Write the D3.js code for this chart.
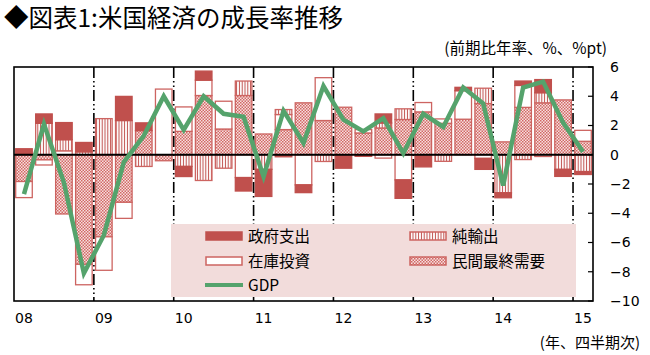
<!DOCTYPE html>
<html><head><meta charset="utf-8">
<script src="https://cdn.jsdelivr.net/npm/d3@7"></script>
<style>body{margin:0;background:#fff;} svg{display:block;}</style>
</head><body>
<svg id="c" width="650" height="355"></svg>
<script>
// ---- data (2008Q1 .. 2015Q1) ----
const quarters = ["08Q1","08Q2","08Q3","08Q4","09Q1","09Q2","09Q3","09Q4",
  "10Q1","10Q2","10Q3","10Q4","11Q1","11Q2","11Q3","11Q4",
  "12Q1","12Q2","12Q3","12Q4","13Q1","13Q2","13Q3","13Q4",
  "14Q1","14Q2","14Q3","14Q4","15Q1"];
const gov =           [0.41, 0.64, 1.17, 0.64, 0.00, 1.65, 0.53, 0.00,
  -0.69, 0.62, 0.00, -0.92, -1.85, -0.14, -0.53, 0.00,
  -0.92, -0.11, 0.62, -1.26, -0.83, 0.00, 0.23, -0.75,
  -0.34, 0.30, 0.90, -0.48, -0.20];
const netExports =    [0.00, 2.15, 0.76, 0.20, 2.47, 2.34, -0.80, 0.00,
  -0.80, -1.76, -0.92, 0.99, -1.00, 0.34, 0.00, -0.46,
  0.00, 0.00, 0.34, 0.73, 0.00, -0.45, 0.00, 1.05,
  -2.60, -0.33, 0.69, -1.00, -1.15];
const inventory =     [-1.10, -0.35, 0.27, -1.40, -2.29, -1.10, 0.00, 4.49,
  1.67, 1.05, 1.90, -1.56, 0.00, 1.03, -2.06, 2.93,
  0.00, 0.23, -0.23, -1.72, 0.64, 0.30, 1.95, -0.25,
  0.00, 1.50, -0.12, 0.00, 0.75];
const privateDemand = [-1.83, -0.35, -4.05, -7.49, -5.61, -3.25, 1.65, -0.41,
  1.60, 4.05, 1.76, 4.05, 1.42, 1.72, 3.55, 2.34,
  3.25, 1.49, 1.83, 2.41, 2.93, 2.15, 2.43, 3.50,
  0.88, 3.24, 3.55, 3.75, 0.92];
const gdp =           [-2.7, 2.1, -1.9, -8.1, -5.5, -0.5, 1.3, 4.0,
  1.7, 4.0, 2.8, 2.6, -1.5, 3.0, 0.8, 4.7,
  2.4, 1.6, 2.5, 0.1, 2.8, 1.9, 4.6, 3.5,
  -2.1, 4.6, 5.0, 2.2, 0.2];
const yearLabels = ["08","09","10","11","12","13","14","15"];
const yTicks = [6,4,2,0,-2,-4,-6,-8,-10];
const seriesNames = {gov:"政府支出", net:"純輸出", inv:"在庫投資", priv:"民間最終需要", gdp:"GDP"};

// ---- layout ----
const svg = d3.select("#c");
const L = 14, R = 593, T = 67, B = 301;
const RED = "#c0504d", EDGE = "#cd6461", GREEN = "#55a36c";
const FONT = "'DejaVu Sans', Verdana, sans-serif";
const JFONT = "'Noto Sans CJK JP', sans-serif";

const x = d3.scaleBand().domain(quarters).range([L, R]).paddingInner(0.17).paddingOuter(0.085);
const y = d3.scaleLinear().domain([-10, 6]).range([B, T]);

// patterns
const defs = svg.append("defs");
const stripe = defs.append("pattern").attr("id","stripe").attr("patternUnits","userSpaceOnUse")
  .attr("width",2.8).attr("height",4);
stripe.append("rect").attr("width",2.8).attr("height",4).attr("fill","#fff");
stripe.append("rect").attr("x",0.9).attr("width",1).attr("height",4).attr("fill",RED);
const hatch = defs.append("pattern").attr("id","hatch").attr("patternUnits","userSpaceOnUse")
  .attr("width",3).attr("height",3);
hatch.append("rect").attr("width",3).attr("height",3).attr("fill","#f6e0df");
hatch.append("rect").attr("width",1.5).attr("height",1.5).attr("fill","#d26865");
hatch.append("rect").attr("x",1.5).attr("y",1.5).attr("width",1.5).attr("height",1.5).attr("fill","#d26865");

// title
svg.append("text").attr("x",4).attr("y",27).attr("font-family",JFONT).attr("font-size",24.5)
  .attr("fill","#000").text("◆図表1:米国経済の成長率推移");
svg.append("text").attr("x",607).attr("y",54).attr("text-anchor","end").attr("font-family",JFONT)
  .attr("font-size",15.5).attr("fill","#000").text("(前期比年率、%、%pt)");

// stacked bars
const rows = quarters.map((q,i)=>({q, priv:privateDemand[i], inv:inventory[i], net:netExports[i], gov:gov[i]}));
const keys = ["priv","inv","net","gov"];
const fills = {priv:"url(#hatch)", inv:"#fff", net:"url(#stripe)", gov:RED};
const stack = d3.stack().keys(keys).offset(d3.stackOffsetDiverging)(rows);
const gBars = svg.append("g");
stack.forEach(s=>{
  gBars.selectAll(null).data(s.filter(d=>d[1]!==d[0])).enter().append("rect")
    .attr("x", d=>x(d.data.q)).attr("width", x.bandwidth())
    .attr("y", d=>y(Math.max(d[0],d[1]))).attr("height", d=>Math.abs(y(d[0])-y(d[1])))
    .attr("fill", fills[s.key]).attr("stroke", s.key==="gov"?RED:EDGE).attr("stroke-width",1.3);
});

// year dividers
const step = x.step();
const divs = quarters.map((q,i)=>i).filter(i=>i>0 && i%4===0);
svg.append("g").selectAll("line").data(divs).enter().append("line")
  .attr("x1", i=>x(quarters[i]) - step*x.paddingInner()/2).attr("x2", i=>x(quarters[i]) - step*x.paddingInner()/2)
  .attr("y1",T).attr("y2",B).attr("stroke","#000").attr("stroke-width",1.6)
  .attr("stroke-dasharray","11,3,1.5,3,1.5,3");

// zero line
svg.append("line").attr("x1",L).attr("x2",R).attr("y1",y(0)).attr("y2",y(0))
  .attr("stroke","#000").attr("stroke-width",1.8);

// GDP line
svg.append("path").datum(gdp).attr("fill","none").attr("stroke",GREEN).attr("stroke-width",4.5)
  .attr("stroke-linejoin","miter")
  .attr("d", d3.line().x((d,i)=>x(quarters[i])+x.bandwidth()/2).y(d=>y(d)));

// legend
const lg = svg.append("g");
lg.append("rect").attr("x",171).attr("y",224).attr("width",405).attr("height",73).attr("fill","#f2dcdb");
const legendItems = [
  {k:"gov", col:0, row:0}, {k:"net", col:1, row:0},
  {k:"inv", col:0, row:1}, {k:"priv", col:1, row:1},
  {k:"gdp", col:0, row:2}];
const colX = [205, 409], rowY = [236, 261, 285];
legendItems.forEach(it=>{
  const sx = colX[it.col], sy = rowY[it.row];
  if (it.k==="gdp") {
    lg.append("line").attr("x1",sx).attr("x2",sx+38).attr("y1",sy).attr("y2",sy)
      .attr("stroke",GREEN).attr("stroke-width",4);
  } else {
    lg.append("rect").attr("x",sx+1).attr("y",sy-4).attr("width",36).attr("height",8)
      .attr("fill",fills[it.k]).attr("stroke",it.k==="gov"?RED:EDGE).attr("stroke-width",1.5);
  }
  lg.append("text").attr("x",sx+43).attr("y",sy+5.5).attr("font-family",JFONT).attr("font-size",15.5)
    .attr("fill","#000").text(seriesNames[it.k]);
});

// frame
svg.append("rect").attr("x",L).attr("y",T).attr("width",R-L).attr("height",B-T)
  .attr("fill","none").attr("stroke","#000").attr("stroke-width",1.6);

// right axis
const yAxis = d3.axisRight(y).tickValues(yTicks).tickSize(0).tickPadding(0).tickFormat(d3.format("d"));
const ga = svg.append("g").attr("transform",`translate(${R},0)`).call(yAxis);
ga.select(".domain").remove();
ga.selectAll("text").attr("x",17).attr("font-family",FONT).attr("font-size",14).attr("fill","#000");
svg.append("g").selectAll("line").data(yTicks).enter().append("line")
  .attr("x1",R-5).attr("x2",R).attr("y1",d=>y(d)).attr("y2",d=>y(d)).attr("stroke","#000").attr("stroke-width",1.2);

// x labels
svg.append("g").selectAll("text").data(yearLabels).enter().append("text")
  .attr("x",(d,i)=>x(quarters[Math.min(i*4, quarters.length-1)]) + x.bandwidth()/2)
  .attr("y",323).attr("text-anchor","middle").attr("font-family",FONT).attr("font-size",14)
  .attr("fill","#000").text(d=>d);
svg.append("text").attr("x",640).attr("y",348).attr("text-anchor","end").attr("font-family",JFONT)
  .attr("font-size",15).attr("fill","#000").text("(年、四半期次)");
</script>
</body></html>
